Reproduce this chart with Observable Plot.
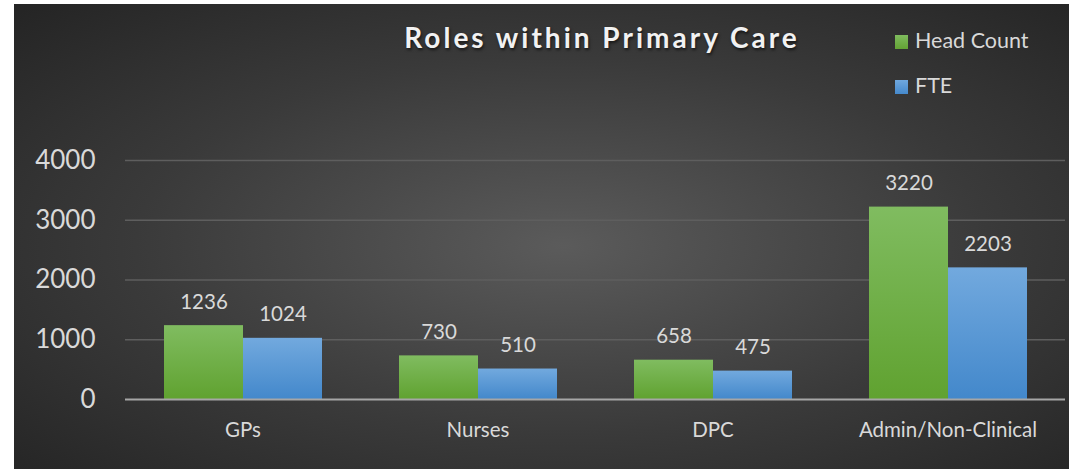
<!DOCTYPE html>
<html>
<head>
<meta charset="utf-8">
<script src="https://cdn.jsdelivr.net/npm/d3@7"></script>
<script src="https://cdn.jsdelivr.net/npm/@observablehq/plot@0.6"></script>
<style>
  html, body { margin: 0; padding: 0; background: #ffffff; }
  #panel {
    position: absolute; left: 14px; top: 4px; width: 1055px; height: 465px;
    background: radial-gradient(ellipse farthest-corner at 52% 52%, #5b5b5b 0%, #3a3a3a 55%, #242424 100%);
    overflow: hidden; font-family: Lato, "Open Sans", sans-serif;
  }
  #title {
    position: absolute; left: 588px; top: 19px; transform: translateX(-50%);
    white-space: nowrap; font-weight: bold; font-size: 28px; line-height: 28px;
    letter-spacing: 3px; color: #f2f2f2; text-shadow: 1px 2px 3px rgba(0,0,0,0.6);
  }
  .leg { position: absolute; left: 881px; font-size: 21.5px; line-height: 22px; color: #d9d9d9; white-space: nowrap; }
  .leg span.sw { display: inline-block; width: 13px; height: 14px; margin-right: 7px; vertical-align: -1px; }
  #chart { position: absolute; left: 0; top: 0; }
</style>
</head>
<body>
<div id="panel">
  <div id="title">Roles within Primary Care</div>
  <div class="leg" id="leg1" style="top:25px"><span class="sw" style="background:linear-gradient(#7fbb5e,#63a334)"></span>Head Count</div>
  <div class="leg" id="leg2" style="top:70px"><span class="sw" style="background:linear-gradient(#70a8de,#4589cc)"></span>FTE</div>
  <div id="chart"></div>
</div>
<script>
const categories = ["GPs", "Nurses", "DPC", "Admin/Non-Clinical"];
const seriesNames = ["Head Count", "FTE"];
const headCount = [1236, 730, 658, 3220];
const fte = [1024, 510, 475, 2203];
const yTicks = [0, 1000, 2000, 3000, 4000];

const rows = [];
categories.forEach((c, i) => {
  rows.push({category: c, series: seriesNames[0], value: headCount[i]});
  rows.push({category: c, series: seriesNames[1], value: fte[i]});
});

const plot = Plot.plot({
  width: 1054,
  height: 465,
  marginTop: 156,
  marginBottom: 70,
  marginLeft: 111,
  marginRight: 3,
  style: {fontFamily: "Lato, 'Open Sans', sans-serif", color: "#d9d9d9", background: "transparent", overflow: "visible"},
  fx: {domain: categories, padding: 0, label: null},
  x: {domain: seriesNames, paddingInner: 0, paddingOuter: 0.487, axis: null},
  y: {domain: [0, 4000], label: null},
  color: {domain: seriesNames, range: ["url(#gGreen)", "url(#gBlue)"]},
  marks: [
    Plot.ruleY(yTicks.filter(t => t > 0), {stroke: "#5e5e5e", strokeWidth: 1.5}),
    Plot.axisY({ticks: yTicks, tickSize: 0, tickPadding: 30, fontSize: 26, label: null, tickFormat: d => String(d)}),
    Plot.axisFx({anchor: "bottom", tickSize: 0, tickPadding: 23, fontSize: 20.5, label: null}),
    Plot.barY(rows, {fx: "category", x: "series", y: "value", fill: "series",
      style: "filter: drop-shadow(2px 2px 2px rgba(0,0,0,0.45))"}),
    Plot.ruleY([0], {stroke: "#a6a6a6", strokeWidth: 2.2}),
    Plot.text(rows, {fx: "category", x: "series", y: "value", text: d => String(d.value),
      dy: -17, lineAnchor: "bottom", fontSize: 20.5, fill: "#d9d9d9"})
  ]
});

const svg = d3.select(plot);
const defs = svg.insert("defs", ":first-child");
const g1 = defs.append("linearGradient").attr("id", "gGreen").attr("x1", 0).attr("y1", 0).attr("x2", 0).attr("y2", 1);
g1.append("stop").attr("offset", "0%").attr("stop-color", "#80bc60");
g1.append("stop").attr("offset", "100%").attr("stop-color", "#60a230");
const g2 = defs.append("linearGradient").attr("id", "gBlue").attr("x1", 0).attr("y1", 0).attr("x2", 0).attr("y2", 1);
g2.append("stop").attr("offset", "0%").attr("stop-color", "#72a9de");
g2.append("stop").attr("offset", "100%").attr("stop-color", "#4388cb");

document.getElementById("chart").appendChild(plot);
</script>
</body>
</html>
